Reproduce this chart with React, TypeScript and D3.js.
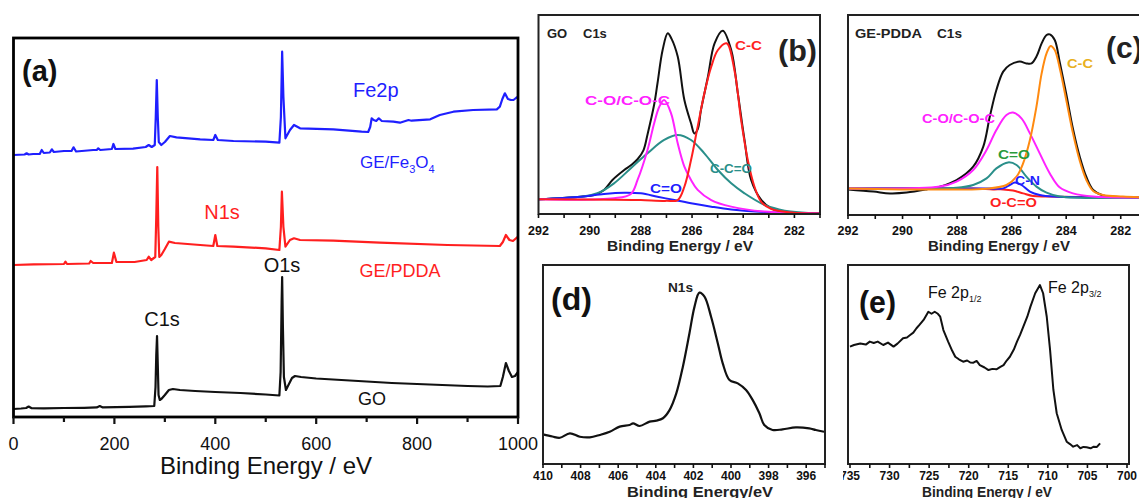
import React from 'react';
import * as d3 from 'd3';

type P = [number, number];

// ---------- (a) survey spectra: [binding energy eV, intensity a.u.] ----------
const surveyGO: P[] = [
  [0, 8], [15, 8.5], [25, 9], [30, 10.5], [36, 8.8], [60, 8.6], [100, 9], [140, 9.2], [165, 9.6], [171, 11], [177, 9.6],
  [230, 10.2], [262, 10.6], [279, 11], [281.5, 30], [283, 62], [284.5, 81], [286, 52], [287.5, 22], [290, 17], [294, 18.5],
  [300, 22], [308, 27], [316, 28], [330, 27], [360, 26], [400, 25], [450, 24], [500, 22.5], [527, 21.5], [529.5, 45],
  [531.5, 115], [532.5, 140], [534, 90], [536, 40], [540, 27], [546, 33], [552, 39], [558, 41], [570, 40], [600, 38.5],
  [650, 37], [700, 35.5], [750, 34], [800, 33], [850, 32], [900, 31], [940, 30.5], [965, 31], [970, 40], [976, 54],
  [982, 46], [988, 40], [994, 41], [1000, 45],
];
const surveyPDDA: P[] = [
  [0, 152], [40, 152.7], [100, 153], [103, 155.3], [106, 153], [150, 153.5], [153, 156], [158, 154], [195, 154],
  [199, 164.3], [204, 155], [240, 155], [264, 157], [268, 160.3], [273, 157], [281, 160], [283, 200], [285, 250],
  [287, 190], [289, 160], [293, 162], [300, 168], [308, 175.3], [320, 174], [370, 172], [396, 171], [400, 182],
  [404, 171], [436, 170.3], [500, 168.7], [527, 167], [530, 190], [532, 225.3], [535, 190], [539, 170.3], [548, 177],
  [556, 178.7], [568, 177], [634, 176.3], [726, 174.3], [860, 172], [964, 171], [970, 175], [976, 182], [983, 177],
  [990, 176], [1000, 180.3],
];
const surveyFe: P[] = [
  [0, 262], [22, 262.5], [26, 263.7], [30, 262.5], [39, 263], [52, 263], [56, 267], [60, 264], [72, 264.5], [76, 267.7],
  [80, 265], [100, 266], [115, 266], [119, 269.7], [124, 265.5], [158, 267], [165, 267], [168, 268.7], [172, 267],
  [195, 268], [198, 273], [202, 268], [237, 268.3], [262, 270], [268, 272], [274, 270], [280, 272], [282, 300],
  [284, 337], [286, 300], [288, 275], [293, 272], [300, 275], [310, 281], [323, 279.7], [370, 277.7], [396, 277],
  [400, 282], [405, 277], [436, 276], [500, 275.3], [527, 274.3], [530, 300], [532.5, 365.3], [535, 320], [539, 278.7],
  [548, 287], [556, 292], [568, 288.7], [634, 287.7], [690, 285.3], [703, 285], [707, 290], [710, 298.7], [714, 297],
  [719, 296], [724, 298.7], [730, 296], [753, 295.3], [766, 294.3], [783, 297], [789, 296.3], [826, 297.7], [845, 302],
  [872, 305.3], [911, 307], [958, 307.7], [964, 310.3], [969, 318], [974, 323.7], [980, 318], [986, 317], [991, 317],
  [996, 319], [1000, 320.3],
];

// ---------- (b) GO C1s ----------
const goEnvelope: P[] = [
  [292, 7.4], [290.35, 8.7], [289.83, 9.5], [289.44, 12.1], [289.11, 17.1], [288.65, 22.1], [288.39, 24.5],
  [288.13, 27.5], [287.9, 32], [287.74, 40], [287.48, 55], [287.35, 65.7], [287.15, 82.4], [286.95, 90.8],
  [286.8, 88], [286.56, 79.1], [286.30, 57.3], [286.04, 45.6], [285.91, 40.5], [285.78, 42.5], [285.65, 52.3],
  [285.38, 69.0], [285.12, 85.8], [284.80, 92.1], [284.47, 82.4], [284.21, 60.6], [283.95, 37.2], [283.69, 17.1],
  [283.29, 7.0], [282.90, 2.8], [282.38, 0.8], [281, 0.3],
];
const goCC: P[] = [
  [292, 7.4], [289, 7.2], [288, 7.0], [287, 6.6], [286.56, 7.0], [286.30, 13.7], [286.04, 27.1], [285.78, 43.9],
  [285.52, 60.6], [285.25, 74.0], [284.99, 82.4], [284.65, 85.8], [284.34, 72], [284.08, 47], [283.82, 27],
  [283.56, 13.7], [283.29, 6], [282.9, 2.5], [282.12, 0.8], [281, 0.3],
];
const goCO: P[] = [
  [292, 7.4], [289.05, 7.9], [288.39, 10.1], [288.13, 17.1], [287.74, 32.2], [287.48, 45.6], [287.28, 53.9],
  [287.09, 57.3], [286.82, 50.6], [286.56, 35.5], [286.30, 23.8], [286.04, 17.1], [285.78, 12.1], [285.25, 7.0],
  [284.47, 3.7], [283.16, 1.2], [281, 0.3],
];
const goCCO: P[] = [
  [292, 7.4], [290.35, 8.7], [289.70, 10.4], [289.05, 15.4], [288.39, 23.0], [287.74, 30.5], [287.09, 37.2],
  [286.56, 39.7], [286.04, 37.2], [285.52, 30.5], [284.99, 22.1], [284.47, 15.4], [283.95, 10.4], [283.16, 4.5],
  [282.38, 1.7], [281, 0.3],
];
const goCdO: P[] = [
  [292, 7.4], [290.35, 8.7], [289.44, 10.1], [288.65, 10.7], [288.0, 10.4], [287.35, 8.7], [286.69, 7.0],
  [286.04, 5.4], [285.25, 3.7], [284.47, 2.3], [283.16, 1.0], [281, 0.3],
];

// ---------- (c) GE-PDDA C1s ----------
const pddaEnvelope: P[] = [
  [292, 12.8], [291.07, 11.7], [290.46, 10.8], [289.85, 11.2], [289.12, 12.8], [288.63, 14.2], [288.02, 17.5],
  [287.41, 24.2], [287.04, 34.2], [286.80, 49.2], [286.56, 62.5], [286.31, 71.7], [286.07, 75.0], [285.70, 76.7],
  [285.46, 75.8], [285.27, 75.8], [285.09, 79.2], [284.90, 85.8], [284.72, 90.0], [284.6, 90.3], [284.42, 87.5],
  [284.23, 76], [283.99, 60], [283.75, 43], [283.50, 29], [283.26, 19], [283.01, 12.5], [282.65, 9.8],
  [281.92, 8.9], [281, 8.8],
];
const pddaCC: P[] = [
  [292, 13.3], [286.80, 13.3], [286.19, 15.0], [285.82, 19.2], [285.58, 25.8], [285.33, 37.5], [285.09, 54.2],
  [284.90, 70.8], [284.72, 80.8], [284.57, 84.5], [284.42, 82.5], [284.23, 73], [283.99, 57], [283.75, 40.8],
  [283.50, 27], [283.26, 17.5], [283.01, 12.0], [282.65, 10.0], [281.92, 9.2], [281, 8.8],
];
const pddaCO: P[] = [
  [292, 13.3], [288.63, 14.2], [288.02, 16.7], [287.41, 22.5], [286.92, 32.5], [286.56, 42.5], [286.19, 50.0],
  [285.95, 51.2], [285.64, 48.3], [285.33, 40.8], [284.97, 30.8], [284.60, 20.8], [284.23, 13.7], [283.75, 10.8],
  [283.01, 9.2], [281, 8.8],
];
const pddaCdO: P[] = [
  [292, 13.3], [288.02, 13.6], [287.41, 15.0], [286.92, 18.3], [286.56, 23.3], [286.13, 26.3], [285.82, 25.0],
  [285.46, 19.2], [285.09, 14.2], [284.72, 11.2], [284.23, 9.2], [281, 8.8],
];
const pddaCN: P[] = [
  [292, 13.3], [286.80, 13.2], [286.31, 13.3], [286.07, 15.0], [285.88, 16.2], [285.64, 15.0], [285.33, 11.7],
  [284.97, 10.0], [284.47, 9.2], [281, 8.8],
];
const pddaOCO: P[] = [
  [292, 13.3], [287.41, 13.2], [286.68, 12.8], [286.31, 12.8], [285.95, 12.2], [285.58, 10.8], [285.21, 9.5],
  [284.72, 9.2], [281, 8.8],
];

// ---------- (d) N1s ----------
const n1s: P[] = [
  [410, 14.9], [409.5, 13.8], [409.1, 13.2], [408.57, 15.4], [408.04, 13.7], [407.51, 13.4], [406.98, 14.6],
  [406.45, 16.2], [405.92, 18.8], [405.39, 19.6], [405.21, 20.4], [404.86, 19.1], [404.33, 21.3], [403.97, 21.8],
  [403.62, 23.0], [403.27, 27.1], [402.91, 35.5], [402.56, 48.9], [402.21, 65.7], [401.94, 79.1], [401.68, 86.1],
  [401.41, 84.1], [401.06, 74.0], [400.70, 60.6], [400.44, 50.6], [400.08, 42.2], [399.64, 40.5], [399.20, 37.2],
  [398.85, 32.2], [398.49, 25.5], [398.23, 19.6], [397.79, 17.1], [397.26, 17.4], [396.55, 18.4], [395.84, 17.9],
  [395.49, 17.1], [395.05, 16.2],
];

// ---------- (e) Fe 2p ----------
const fe2p: P[] = [
  [735, 59.0], [734.5, 59.8], [733.7, 60.6], [733, 60], [732.5, 61.5], [732, 60.8], [731.5, 61.5], [730.8, 59.8],
  [730.2, 61], [729.5, 59.0], [729, 60.5], [728.3, 63.2], [727.8, 63.6], [727.4, 64.8], [727, 66], [726.6, 68.2],
  [726.2, 70], [725.7, 72.4], [725.1, 76.5], [724.7, 75.5], [724.3, 76.5], [723.9, 75.5], [723.6, 74.0],
  [723.2, 67.3], [722.6, 61.5], [722.1, 57], [721.7, 53.9], [721.2, 52.5], [720.7, 51.4], [720.2, 52], [719.8, 51],
  [719.4, 50.9], [719, 51.8], [718.6, 49.7], [718, 48.5], [717.5, 47.2], [717, 47.8], [716.5, 47.6], [716, 48.8],
  [715.6, 49.7], [715.2, 52], [714.8, 53.9], [714.3, 57.5], [713.9, 61.5], [713.5, 65], [713.1, 69.0], [712.6, 74],
  [712.2, 79.1], [711.6, 85.8], [711, 89.9], [710.6, 85.8], [710.14, 74], [709.72, 57.3], [709.3, 37.2],
  [708.88, 25.5], [708.25, 17.1], [707.62, 11.2], [707.2, 10], [706.8, 8.7], [706.3, 9.5], [705.9, 7.9],
  [705.5, 8.6], [705.1, 8.4], [704.6, 7.9], [704.2, 8.7], [703.8, 8.6], [703.4, 10.4],
];

// tick values
const surveyTicks = d3.range(0, 1001, 100);
const c1sTicks = d3.range(281, 293, 1);
const n1sTicks = d3.range(395, 411, 1);
const feTicks = d3.range(700, 736, 2.5);

const FONT = "'Liberation Sans', Arial, Helvetica, sans-serif";

const mkLine = (x: d3.ScaleLinear<number, number>, y: d3.ScaleLinear<number, number>, curve: d3.CurveFactory) =>
  d3.line<P>().x(d => x(d[0])).y(d => y(d[1])).curve(curve);

function Ticks(props: {
  x: d3.ScaleLinear<number, number>; y0: number; values: number[]; isMajor: (v: number) => boolean;
  majorLen: number; minorLen: number; labelY: number; fontSize: number; bold?: boolean; sw: number;
}) {
  const { x, y0, values, isMajor, majorLen, minorLen, labelY, fontSize, bold, sw } = props;
  return (
    <g>
      {values.map(v => (
        <g key={v}>
          <line x1={x(v)} x2={x(v)} y1={y0} y2={y0 + (isMajor(v) ? majorLen : minorLen)} stroke="#111" strokeWidth={sw} />
          {isMajor(v) && (
            <text x={x(v)} y={labelY} textAnchor="middle" fontSize={fontSize} fontWeight={bold ? 'bold' : 'normal'}
              fontFamily={FONT} fill="#111">{v}</text>
          )}
        </g>
      ))}
    </g>
  );
}

export default function App() {
  // (a)
  const xA = d3.scaleLinear().domain([0, 1000]).range([13.5, 518]);
  const yA = d3.scaleLinear().domain([0, 379]).range([417, 38]);
  const lA = mkLine(xA, yA, d3.curveLinear);
  // (b)
  const xB = d3.scaleLinear().domain([292, 281]).range([538.5, 820]);
  const yB = d3.scaleLinear().domain([0, 100]).range([214, 15]);
  const lB = mkLine(xB, yB, d3.curveCatmullRom.alpha(0.5));
  // (c)
  const xC = d3.scaleLinear().domain([292, 281]).range([848, 1148]);
  const yC = d3.scaleLinear().domain([0, 100]).range([215, 15]);
  const lC = mkLine(xC, yC, d3.curveCatmullRom.alpha(0.5));
  // (d)
  const xD = d3.scaleLinear().domain([410, 395]).range([543, 825]);
  const yD = d3.scaleLinear().domain([0, 100]).range([464, 265]);
  const lD = mkLine(xD, yD, d3.curveCatmullRom.alpha(0.5));
  // (e)
  const xE = d3.scaleLinear().domain([735, 700]).range([850, 1127]);
  const yE = d3.scaleLinear().domain([0, 100]).range([464, 265]);
  const lE = mkLine(xE, yE, d3.curveLinear);

  const RED = '#ff1f1f';
  const BLUE = '#1f1fff';
  const MAG = '#ff22ff';
  const TEAL = '#2a8f8a';
  const ORANGE = '#ff8a10';

  const lbl = (x: number, y: number, t: string, fill: string, size = 13, len?: number, anchor = 'start') => (
    <text x={x} y={y} fill={fill} fontSize={size} fontWeight="bold" fontFamily={FONT} textAnchor={anchor}
      textLength={len} lengthAdjust={len ? 'spacingAndGlyphs' : undefined}>{t}</text>
  );

  return (
    <svg width={1139} height={498} style={{ position: 'absolute', left: 0, top: 0, background: '#fff' }}>
      <defs>
        <clipPath id="clipE"><rect x={843} y={250} width={300} height={250} /></clipPath>
      </defs>
      <rect x={0} y={0} width={1139} height={498} fill="#fff" />

      {/* ===== (a) ===== */}
      <g>
        <path d={lA(surveyGO) || ''} fill="none" stroke="#111" strokeWidth={2.2} strokeLinejoin="round" />
        <path d={lA(surveyPDDA) || ''} fill="none" stroke={RED} strokeWidth={2.2} strokeLinejoin="round" />
        <path d={lA(surveyFe) || ''} fill="none" stroke={BLUE} strokeWidth={2.2} strokeLinejoin="round" />
        <rect x={13.5} y={38} width={504.5} height={379} fill="none" stroke="#000" strokeWidth={2.8} />
        <Ticks x={xA} y0={417} values={surveyTicks} isMajor={v => v % 200 === 0} majorLen={7} minorLen={5}
          labelY={450} fontSize={18} sw={2.2} />
        <text x={266} y={474} textAnchor="middle" fontSize={24} fontFamily={FONT} fill="#111">Binding Energy / eV</text>
        <text x={22} y={81} fontSize={29} fontWeight="bold" fontFamily={FONT} fill="#111">(a)</text>
        <text x={353} y={97} fontSize={20} fontFamily={FONT} fill={BLUE}>Fe2p</text>
        <text x={360} y={168} fontSize={17} fontFamily={FONT} fill={BLUE}>GE/Fe<tspan fontSize={11} dy={5}>3</tspan>
          <tspan fontSize={17} dy={-5}>O</tspan><tspan fontSize={11} dy={5}>4</tspan></text>
        <text x={222} y={219} textAnchor="middle" fontSize={20} fontFamily={FONT} fill={RED}>N1s</text>
        <text x={400} y={277} textAnchor="middle" fontSize={18} fontFamily={FONT} fill={RED}>GE/PDDA</text>
        <text x={282} y={272} textAnchor="middle" fontSize={20} fontFamily={FONT} fill="#111">O1s</text>
        <text x={162} y={326} textAnchor="middle" fontSize={20} fontFamily={FONT} fill="#111">C1s</text>
        <text x={372} y={405} textAnchor="middle" fontSize={18} fontFamily={FONT} fill="#111">GO</text>
      </g>

      {/* ===== (b) ===== */}
      <g>
        <path d={lB(goEnvelope) || ''} fill="none" stroke="#111" strokeWidth={2} />
        <path d={lB(goCCO) || ''} fill="none" stroke={TEAL} strokeWidth={2} />
        <path d={lB(goCdO) || ''} fill="none" stroke={BLUE} strokeWidth={2} />
        <path d={lB(goCO) || ''} fill="none" stroke={MAG} strokeWidth={2} />
        <path d={lB(goCC) || ''} fill="none" stroke={RED} strokeWidth={2} />
        <rect x={538.5} y={15} width={281.5} height={199} fill="none" stroke="#222" strokeWidth={2} />
        <Ticks x={xB} y0={214} values={c1sTicks} isMajor={v => v % 2 === 0} majorLen={4} minorLen={4}
          labelY={235} fontSize={12.5} bold sw={1.6} />
        {lbl(680, 250.5, 'Binding Energy / eV', '#222', 14.5, 146, 'middle')}
        {lbl(547, 38, 'GO', '#222', 13)}
        {lbl(583, 38, 'C1s', '#222', 13)}
        {lbl(735, 50, 'C-C', RED, 13, 27)}
        {lbl(778, 61, '(b)', '#222', 30, 39)}
        {lbl(585, 105, 'C-O/C-O-C', MAG, 13, 85)}
        {lbl(710, 173, 'C-C=O', TEAL, 13, 42)}
        {lbl(650, 193, 'C=O', BLUE, 13, 32)}
      </g>

      {/* ===== (c) ===== */}
      <g>
        <path d={lC(pddaEnvelope) || ''} fill="none" stroke="#111" strokeWidth={2} />
        <path d={lC(pddaOCO) || ''} fill="none" stroke={RED} strokeWidth={2} />
        <path d={lC(pddaCN) || ''} fill="none" stroke={BLUE} strokeWidth={2} />
        <path d={lC(pddaCdO) || ''} fill="none" stroke={TEAL} strokeWidth={2} />
        <path d={lC(pddaCO) || ''} fill="none" stroke={MAG} strokeWidth={2} />
        <path d={lC(pddaCC) || ''} fill="none" stroke={ORANGE} strokeWidth={2} />
        <rect x={848} y={15} width={310} height={200} fill="none" stroke="#222" strokeWidth={2} />
        <Ticks x={xC} y0={215} values={c1sTicks} isMajor={v => v % 2 === 0} majorLen={4} minorLen={4}
          labelY={235} fontSize={12.5} bold sw={1.6} />
        {lbl(999, 250.5, 'Binding Energy / eV', '#222', 14.5, 142, 'middle')}
        {lbl(855, 38, 'GE-PDDA', '#222', 13, 67)}
        {lbl(937, 38, 'C1s', '#222', 13, 25)}
        {lbl(1067, 68, 'C-C', '#e8b020', 13, 26)}
        {lbl(1106, 58, '(c)', '#222', 30)}
        {lbl(922, 123, 'C-O/C-O-C', MAG, 13, 73)}
        {lbl(998, 159, 'C=O', '#2a9a3a', 13, 32)}
        {lbl(1015, 185, 'C-N', BLUE, 13, 25)}
        {lbl(990, 207, 'O-C=O', RED, 13, 47)}
      </g>

      {/* ===== (d) ===== */}
      <g>
        <path d={lD(n1s) || ''} fill="none" stroke="#111" strokeWidth={2.2} />
        <rect x={543} y={265} width={282} height={199} fill="none" stroke="#222" strokeWidth={2} />
        <Ticks x={xD} y0={464} values={n1sTicks} isMajor={v => v % 2 === 0} majorLen={4} minorLen={4}
          labelY={480} fontSize={12} bold sw={1.6} />
        {lbl(700, 497, 'Binding Energy/eV', '#222', 15.5, 146, 'middle')}
        {lbl(551, 310, '(d)', '#111', 31, 41)}
        {lbl(668, 292, 'N1s', '#222', 12, 25)}
      </g>

      {/* ===== (e) ===== */}
      <g clipPath="url(#clipE)">
        <path d={lE(fe2p) || ''} fill="none" stroke="#111" strokeWidth={2} strokeLinejoin="round" />
        <rect x={848} y={265} width={281} height={199} fill="none" stroke="#222" strokeWidth={2} />
        <Ticks x={xE} y0={464} values={feTicks} isMajor={v => v % 5 === 0} majorLen={4} minorLen={4}
          labelY={480} fontSize={12} bold sw={1.6} />
        {lbl(987, 497, 'Binding Energy / eV', '#222', 14, 130, 'middle')}
        {lbl(859, 313, '(e)', '#111', 31, 37)}
        <text x={928} y={298} fontSize={16} fontFamily={FONT} fill="#111">Fe 2p<tspan fontSize={9} dy={4}>1/2</tspan></text>
        <text x={1048} y={293} fontSize={16} fontFamily={FONT} fill="#111">Fe 2p<tspan fontSize={9} dy={4}>3/2</tspan></text>
      </g>
    </svg>
  );
}
